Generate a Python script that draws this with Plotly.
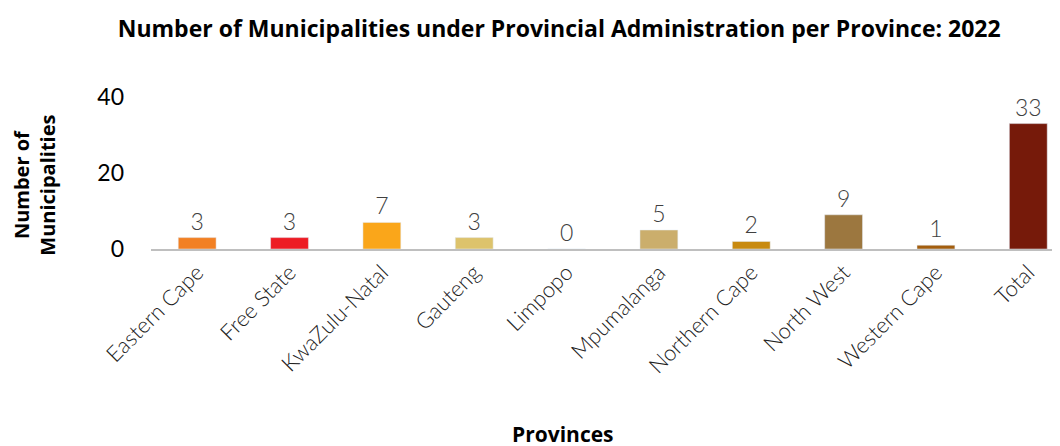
import plotly.graph_objects as go

provinces = ["Eastern Cape", "Free State", "KwaZulu-Natal", "Gauteng", "Limpopo",
             "Mpumalanga", "Northern Cape", "North West", "Western Cape", "Total"]
municipalities = [3, 3, 7, 3, 0, 5, 2, 9, 1, 33]
bar_colors = ["#F28023", "#ED1C24", "#FAA61A", "#DDC36C", "#C9A24F",
              "#CBAE6C", "#C88A10", "#9C773F", "#A35E0E", "#761A0A"]
y_ticks = [0, 20, 40]

# the page adds an 8px body margin, so positions below are shifted by -8px
fig = go.Figure(data=[
    go.Bar(
        x=provinces,
        y=municipalities,
        marker_color=bar_colors,
        text=municipalities,
        textposition="outside",
        textfont=dict(family="Lato", size=23, color="#404040", weight=300),
        cliponaxis=False,
    )
])

fig.update_layout(
    width=1060,
    height=446,
    margin=dict(l=143, r=0, t=89, b=205, autoexpand=False),
    plot_bgcolor="white",
    paper_bgcolor="white",
    showlegend=False,
    bargap=0.59,
    title=dict(
        text="<b>Number of Municipalities under Provincial Administration per Province: 2022</b>",
        font=dict(family="Open Sans", size=23, color="black"),
        x=0.52, xanchor="center", y=0.953, yanchor="middle",
    ),
    xaxis=dict(
        range=[-0.5, 9.43],
        automargin=False,
        showline=True,
        linecolor="#BFBFBF",
        linewidth=2,
        tickangle=-45,
        ticks="",
        tickfont=dict(family="Lato", size=22, color="#222222", weight=300),
    ),
    yaxis=dict(
        range=[0, 40],
        automargin=False,
        tickvals=y_ticks,
        showgrid=False,
        zeroline=False,
        showline=False,
        ticks="",
        ticklabelstandoff=26,
        tickfont=dict(family="Lato", size=23, color="black"),
    ),
    annotations=[
        dict(text="<b>Number of<br>Municipalities</b>", x=-0.127, y=0.42,
             xref="paper", yref="paper", showarrow=False, textangle=-90,
             xanchor="center", yanchor="middle",
             font=dict(family="Open Sans", size=20, color="black")),
        dict(text="<b>Provinces</b>", x=0.449, y=-1.22,
             xref="paper", yref="paper", showarrow=False,
             xanchor="center", yanchor="middle",
             font=dict(family="Open Sans", size=21, color="black")),
    ],
)

fig.write_html("out.html")
